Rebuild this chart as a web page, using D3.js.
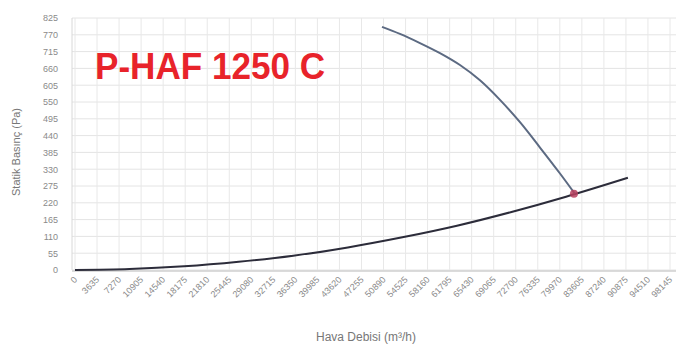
<!DOCTYPE html>
<html><head><meta charset="utf-8">
<script src="https://cdn.jsdelivr.net/npm/d3@7"></script>
<style>body{margin:0;background:#fff}svg{display:block}</style>
</head><body>
<svg id="c" width="677" height="349"></svg>
<script>
const chartTitle = "P-HAF 1250 C";
const xTitle = "Hava Debisi (m³/h)";
const yTitle = "Statik Basınç (Pa)";
const xTicks = [0,3635,7270,10905,14540,18175,21810,25445,29080,32715,36350,39985,43620,47255,50890,54525,58160,61795,65430,69065,72700,76335,79970,83605,87240,90875,94510,98145];
const yTicks = [0,55,110,165,220,275,330,385,440,495,550,605,660,715,770,825];
// fan curve (flow, static pressure)
const fanFlow = [50640,53600,56900,60200,63500,66800,70100,73400,76700,80000,82475];
const fanPress = [796,773,743,710,671,621,557,484,401,316,249];
// system curve
const sysFlow = [0,9000,18000,27000,36000,45000,54000,63000,72000,81000,91200];
const sysPress = [0,3,12,27,47,74,107,145,190,240,302];
// operating point
const opFlow = [82300];
const opPress = [250];

const svg = d3.select("#c");
const x = d3.scaleLinear().domain([0,98145]).range([75,670]);
const y = d3.scaleLinear().domain([0,825]).range([270,18]);
const left = 72, right = 676;
const font = "Liberation Sans, Arial, sans-serif";

const g = svg.append("g");
g.selectAll("line.h").data(yTicks).join("line")
  .attr("x1",left).attr("x2",right).attr("y1",d=>y(d)).attr("y2",d=>y(d))
  .attr("stroke","#e4e4e4").attr("stroke-width",1);
g.selectAll("line.v").data(xTicks).join("line")
  .attr("x1",d=>x(d)).attr("x2",d=>x(d)).attr("y1",y(825)).attr("y2",270)
  .attr("stroke","#e8e8e8").attr("stroke-width",1);
g.append("line").attr("x1",left).attr("x2",left).attr("y1",y(825)).attr("y2",270)
  .attr("stroke","#d8d8d8");

const yAxis = d3.axisLeft(y).tickValues(yTicks).tickSize(0).tickPadding(0);
const ya = svg.append("g").attr("transform","translate(58,0)").call(yAxis);
ya.select(".domain").remove();
ya.selectAll("text").attr("font-family",font).attr("font-size",9).attr("fill","#8a8a8a");

const xAxis = d3.axisBottom(x).tickValues(xTicks).tickFormat(d=>String(d)).tickSize(0).tickPadding(0);
const xa = svg.append("g").attr("transform","translate(0,278)").call(xAxis);
xa.select(".domain").remove();
xa.selectAll("text").attr("font-family",font).attr("font-size",9).attr("fill","#8a8a8a")
  .attr("text-anchor","end").attr("dy","0.35em")
  .attr("transform","rotate(-45)");

svg.append("line").attr("x1",left).attr("x2",right).attr("y1",271).attr("y2",271)
  .attr("stroke","#cfcfcf").attr("stroke-width",1.5);

const line = d3.line().x(d=>x(d[0])).y(d=>y(d[1])).curve(d3.curveCatmullRom.alpha(0.5));
svg.append("path").datum(sysFlow.map((f,i)=>[f,sysPress[i]]))
  .attr("d",line).attr("fill","none").attr("stroke","#2c2c3a").attr("stroke-width",2);
svg.append("path").datum(fanFlow.map((f,i)=>[f,fanPress[i]]))
  .attr("d",line).attr("fill","none").attr("stroke","#5c6a82").attr("stroke-width",2);

svg.selectAll("circle.op").data(opFlow).join("circle")
  .attr("cx",d=>x(d)).attr("cy",(d,i)=>y(opPress[i])).attr("r",4)
  .attr("fill","#b8405e").attr("opacity",0.85);

svg.append("text").attr("x",95).attr("y",79).text(chartTitle)
  .attr("font-family",font).attr("font-weight","bold")
  .attr("font-size",36).attr("textLength",230).attr("lengthAdjust","spacingAndGlyphs")
  .attr("fill","#e8232a");
svg.append("text").attr("x",366).attr("y",341).attr("text-anchor","middle").text(xTitle)
  .attr("font-family",font).attr("font-size",12).attr("fill","#777");
svg.append("text").attr("transform","translate(20,152) rotate(-90)").attr("text-anchor","middle").text(yTitle)
  .attr("font-family",font).attr("font-size",11).attr("fill","#777");
</script>
</body></html>
